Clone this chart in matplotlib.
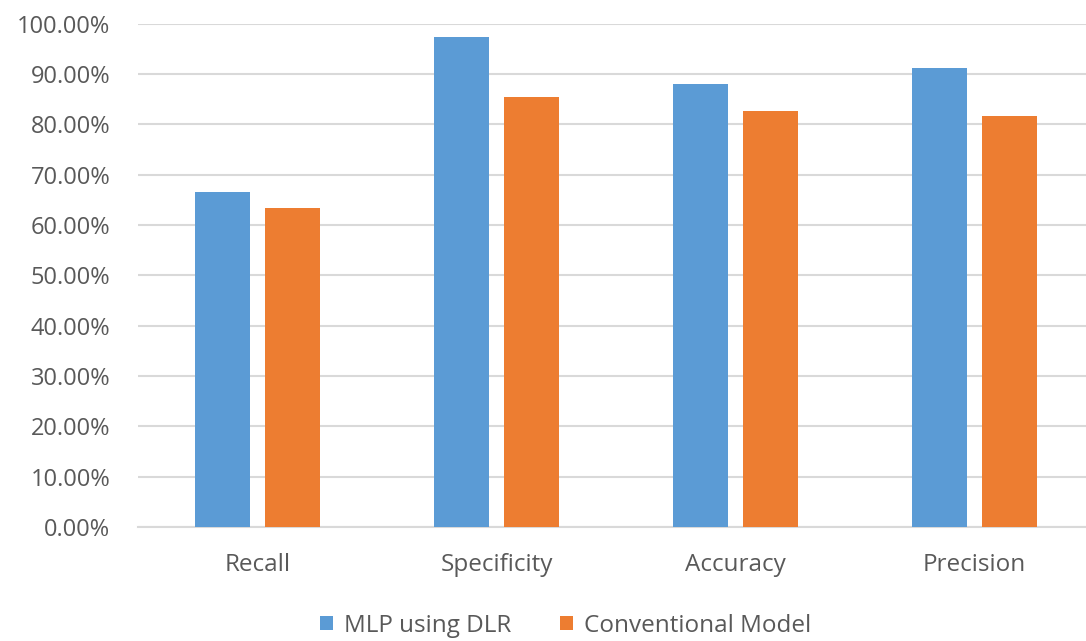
import numpy as np
import matplotlib.pyplot as plt
from matplotlib.ticker import FuncFormatter

metrics = ["Recall", "Specificity", "Accuracy", "Precision"]
mlp_dlr = [66.6, 97.3, 88.0, 91.2]
conventional = [63.3, 85.5, 82.7, 81.7]
series_names = ["MLP using DLR", "Conventional Model"]

blue = "#5B9BD5"
orange = "#ED7D31"
grey_text = "#595959"
grid_col = "#D9D9D9"

plt.rcParams['font.family'] = ['Open Sans', 'DejaVu Sans']

fig = plt.figure(figsize=(10.86, 6.41), dpi=100)
ax = fig.add_axes([0.127, 0.178, 0.873, 0.785])

x = np.arange(len(metrics))
w = 0.23
off = 0.145
ax.bar(x - off, mlp_dlr, w, color=blue, label=series_names[0], zorder=3)
ax.bar(x + off, conventional, w, color=orange, label=series_names[1], zorder=3)

ax.set_ylim(0, 100)
ax.set_yticks(np.arange(0, 101, 10))
ax.yaxis.set_major_formatter(FuncFormatter(lambda v, p: "%.2f%%" % v))
ax.set_xlim(-0.5, 3.5 - 8 / 239)
ax.set_xticks(x)
ax.set_xticklabels(metrics)

ax.grid(axis='y', color=grid_col, linewidth=1.5, zorder=0)
for s in ['top', 'right', 'left']:
    ax.spines[s].set_visible(False)
ax.spines['bottom'].set_color(grid_col)
ax.spines['bottom'].set_linewidth(1.5)
ax.tick_params(axis='y', length=0, colors=grey_text, labelsize=17, pad=20)
ax.tick_params(axis='x', length=0, colors=grey_text, labelsize=17.5, pad=19)

fig.legend(loc='center', bbox_to_anchor=(0.521, 0.024), ncol=2, frameon=False,
           fontsize=17.5, labelcolor=grey_text, handlelength=0.55, handleheight=0.55,
           handletextpad=0.45, columnspacing=2.0)

fig.savefig("out.png", dpi=100)
